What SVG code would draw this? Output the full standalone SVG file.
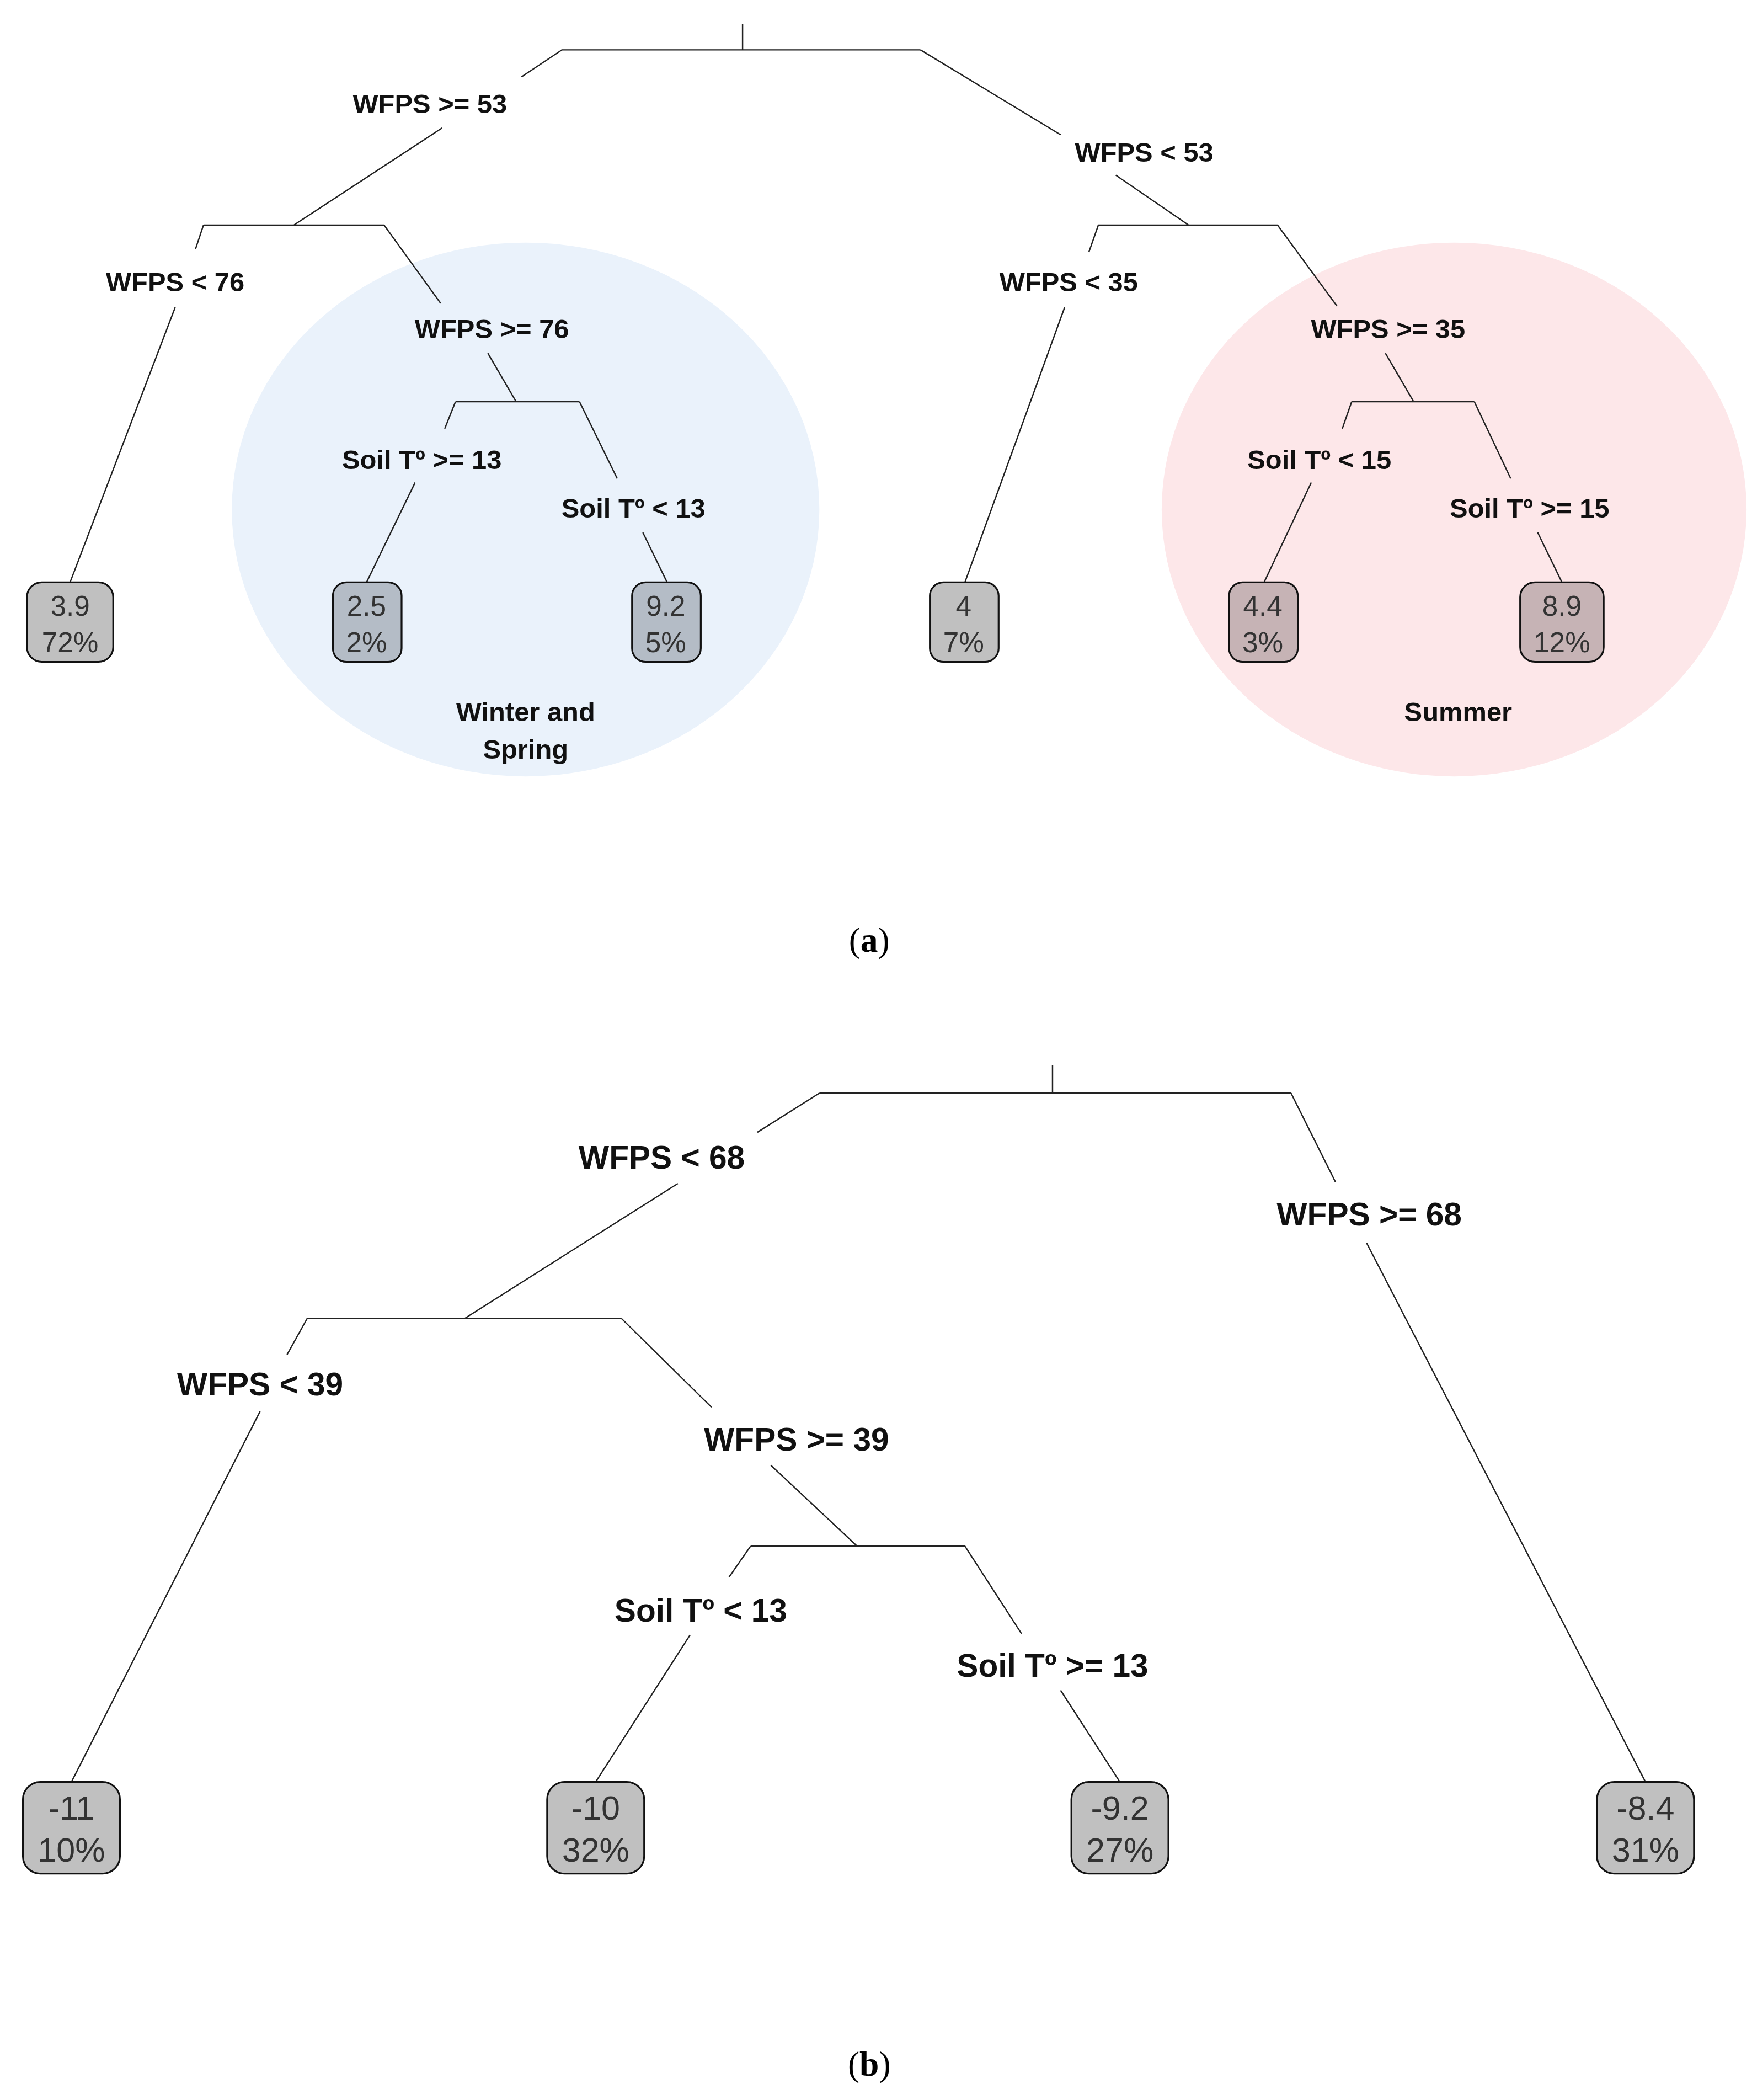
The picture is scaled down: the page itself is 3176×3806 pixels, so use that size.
<svg xmlns="http://www.w3.org/2000/svg" width="3176" height="3806" viewBox="0 0 3176 3806">
<style>
.c{fill:none;stroke:#222;stroke-width:1}
.la{font-family:"Liberation Sans",Arial,sans-serif;font-weight:bold;font-size:20px;text-anchor:middle;fill:#111}
.lb{font-family:"Liberation Sans",Arial,sans-serif;font-weight:bold;font-size:24px;text-anchor:middle;fill:#111}
.box{fill:#c0c0c0;stroke:#111;stroke-width:1.3}
.va{font-family:"Liberation Sans",Arial,sans-serif;font-size:21px;text-anchor:middle;fill:#333}
.vb{font-family:"Liberation Sans",Arial,sans-serif;font-size:25px;text-anchor:middle;fill:#333}
.cap{font-family:"Liberation Serif","Times New Roman",serif;font-size:26px;text-anchor:middle;fill:#000}
</style>
<rect width="3176" height="3806" fill="#fff"/>
<g transform="scale(2.443)">
<g id="seasons">
<ellipse cx="390" cy="378" rx="218" ry="198" fill="#eaf2fb"/>
<ellipse cx="1079" cy="378" rx="217" ry="198" fill="#fde7e9"/>
<text class="la" x="390" y="535">Winter and</text>
<text class="la" x="390" y="563">Spring</text>
<text class="la" x="1082" y="535">Summer</text>
</g>
<g id="connectors">
<path class="c" d="M551,18V37M417,37H683M417,37L387,57M328,95L218,167M151,167H285M683,37L787,100M828,130L882,167M815,167H948"/>
<path class="c" d="M151,167L145,185M130,228L52,432M285,167L327,225M362,262L383,298M338,298H430M338,298L330,318M308,358L272,432M430,298L458,355M477,395L495,432"/>
<path class="c" d="M815,167L808,187M790,228L716,432M948,167L992,227M1028,262L1049,298M1003,298H1094M1003,298L996,318M973,358L938,432M1094,298L1121,355M1141,395L1159,432"/>
<path class="c" d="M781,790V811M608,811H958M608,811L562,840M503,878L345,978M228,978H461M958,811L991,877M1014,922L1221,1322"/>
<path class="c" d="M228,978L213,1005M193,1047L53,1322M461,978L528,1044M572,1087L636,1147M557,1147H716M557,1147L541,1170M512,1213L442,1322M716,1147L758,1212M787,1254L831,1322"/>
</g>
<g id="labels-a">
<text class="la" x="319" y="84">WFPS &gt;= 53</text>
<text class="la" x="849" y="120">WFPS &lt; 53</text>
<text class="la" x="130" y="216">WFPS &lt; 76</text>
<text class="la" x="365" y="251">WFPS &gt;= 76</text>
<text class="la" x="313" y="348">Soil Tº &gt;= 13</text>
<text class="la" x="470" y="384">Soil Tº &lt; 13</text>
<text class="la" x="793" y="216">WFPS &lt; 35</text>
<text class="la" x="1030" y="251">WFPS &gt;= 35</text>
<text class="la" x="979" y="348">Soil Tº &lt; 15</text>
<text class="la" x="1135" y="384">Soil Tº &gt;= 15</text>
</g>
<g id="leaves-a">
<g id="la1"><rect class="box" x="20" y="432" width="64" height="59" rx="11"/><text class="va" x="52" y="457">3.9</text><text class="va" x="52" y="484">72%</text></g>
<g id="la2"><rect class="box" x="247" y="432" width="51" height="59" rx="10" style="fill:#b4bcc6"/><text class="va" x="272" y="457">2.5</text><text class="va" x="272" y="484">2%</text></g>
<g id="la3"><rect class="box" x="469" y="432" width="51" height="59" rx="10" style="fill:#b4bcc6"/><text class="va" x="494" y="457">9.2</text><text class="va" x="494" y="484">5%</text></g>
<g id="la4"><rect class="box" x="690" y="432" width="51" height="59" rx="10"/><text class="va" x="715" y="457">4</text><text class="va" x="715" y="484">7%</text></g>
<g id="la5"><rect class="box" x="912" y="432" width="51" height="59" rx="10" style="fill:#c6b3b5"/><text class="va" x="937" y="457">4.4</text><text class="va" x="937" y="484">3%</text></g>
<g id="la6"><rect class="box" x="1128" y="432" width="62" height="59" rx="11" style="fill:#c6b3b5"/><text class="va" x="1159" y="457">8.9</text><text class="va" x="1159" y="484">12%</text></g>
</g>
<text class="cap" x="645" y="706">(<tspan font-weight="bold">a</tspan>)</text>
<g id="labels-b">
<text class="lb" x="491" y="867">WFPS &lt; 68</text>
<text class="lb" x="1016" y="909">WFPS &gt;= 68</text>
<text class="lb" x="193" y="1035">WFPS &lt; 39</text>
<text class="lb" x="591" y="1076">WFPS &gt;= 39</text>
<text class="lb" x="520" y="1203">Soil Tº &lt; 13</text>
<text class="lb" x="781" y="1244">Soil Tº &gt;= 13</text>
</g>
<g id="leaves-b">
<g id="lb1"><rect class="box" x="17" y="1322" width="72" height="68" rx="13"/><text class="vb" x="53" y="1350">-11</text><text class="vb" x="53" y="1381">10%</text></g>
<g id="lb2"><rect class="box" x="406" y="1322" width="72" height="68" rx="13"/><text class="vb" x="442" y="1350">-10</text><text class="vb" x="442" y="1381">32%</text></g>
<g id="lb3"><rect class="box" x="795" y="1322" width="72" height="68" rx="13"/><text class="vb" x="831" y="1350">-9.2</text><text class="vb" x="831" y="1381">27%</text></g>
<g id="lb4"><rect class="box" x="1185" y="1322" width="72" height="68" rx="13"/><text class="vb" x="1221" y="1350">-8.4</text><text class="vb" x="1221" y="1381">31%</text></g>
</g>
<text class="cap" x="645" y="1540">(<tspan font-weight="bold">b</tspan>)</text>
</g>
</svg>
